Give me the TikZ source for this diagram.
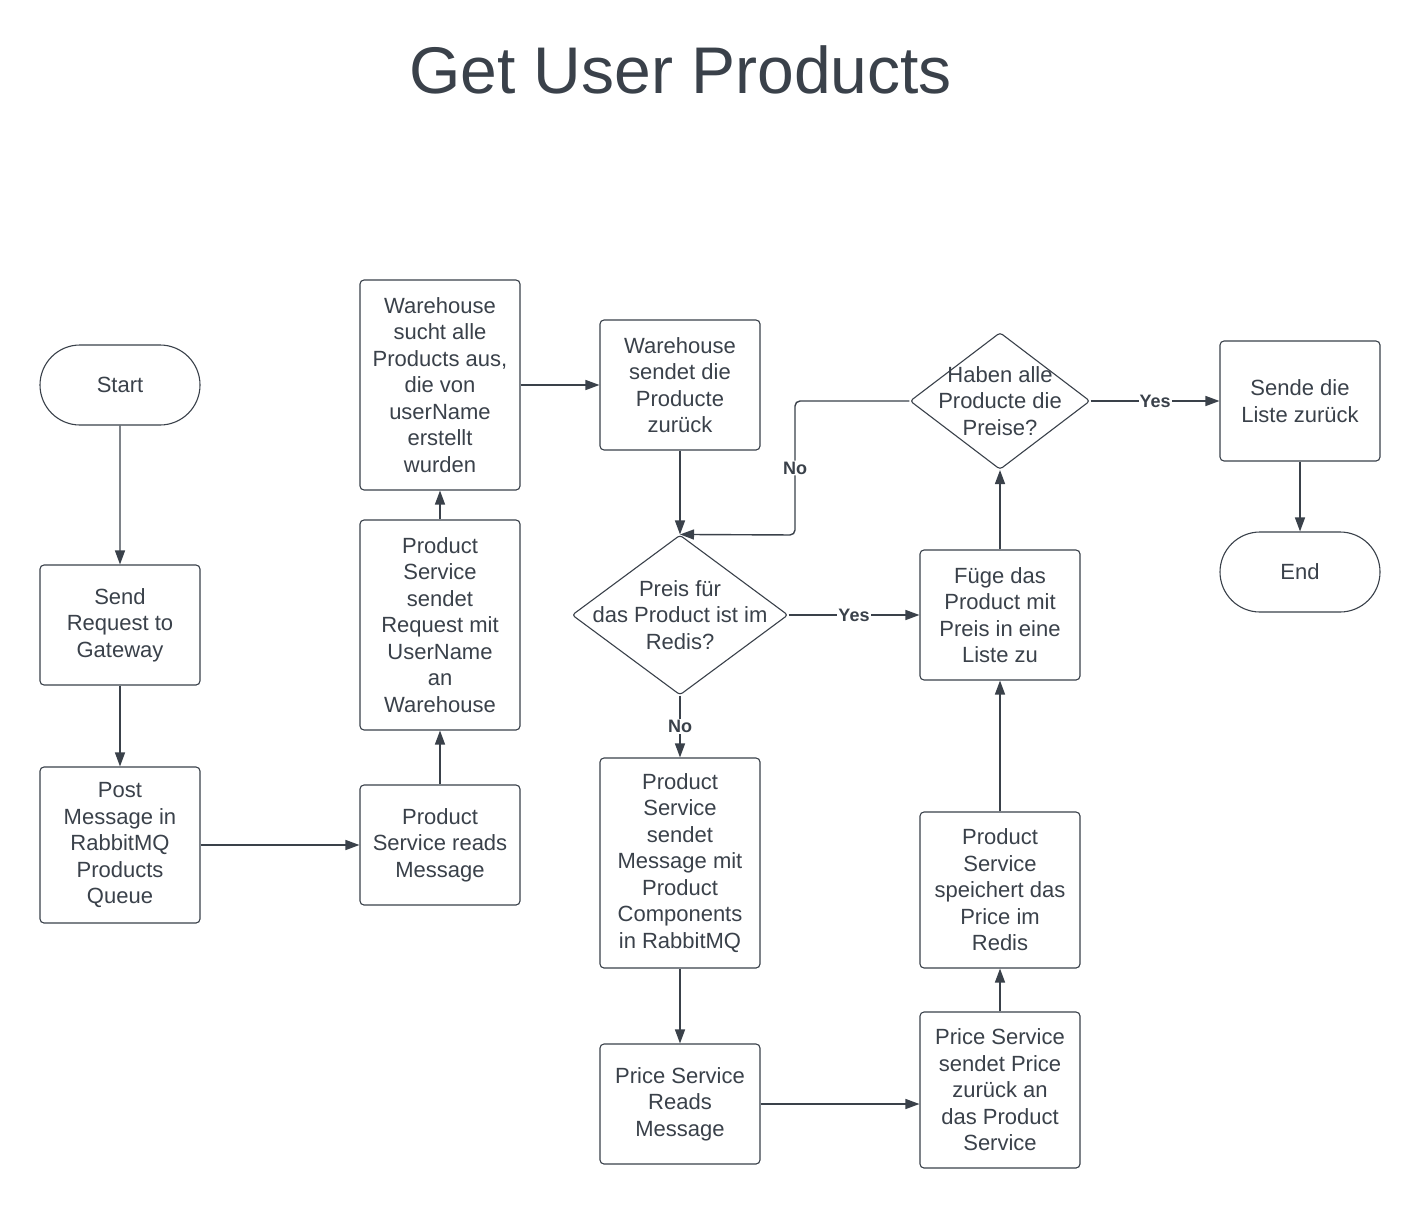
\documentclass[tikz,border=0pt]{standalone}
\usepackage{fontspec}
\setmainfont{Liberation Sans}
\usetikzlibrary{arrows.meta,shapes.geometric,shapes.misc}
\definecolor{ink}{HTML}{3A414A}
\begin{document}
\begin{tikzpicture}[x=1pt,y=-1pt,
  txt/.style={text=ink,align=center,font=\fontsize{22}{26.5}\selectfont},
  box/.style={txt,draw=ink,line width=1.1pt,rounded corners=4pt,minimum width=160pt,inner sep=0pt},
  term/.style={txt,draw=ink,line width=1.1pt,rounded rectangle,minimum width=160pt,minimum height=80pt,inner sep=0pt},
  dia/.style={draw=ink,line width=1.1pt,diamond,rounded corners=3pt,inner sep=0pt},
  arr/.style={draw=ink,line width=1.4pt,-{Triangle[length=14pt,width=10pt]}},
  lab/.style={text=ink,fill=white,inner sep=1pt,font=\bfseries\fontsize{18}{20}\selectfont}
]
\useasboundingbox[fill=white] (0,0) rectangle (1420,1209);

\node[text=ink,anchor=base,font=\fontsize{66}{70}\selectfont] (title) at (680.5,94) {Get User Products};

\node[term] (start) at (120,385) {Start};
\node[box,minimum height=120pt] (send) at (120,625) {Send\\Request to\\Gateway};
\node[box,minimum height=156pt] (post) at (120,845) {Post\\Message in\\RabbitMQ\\Products\\Queue};
\node[box,minimum height=120pt] (psr) at (440,845) {Product\\Service reads\\Message};
\node[box,minimum height=210pt] (psreq) at (440,625) {Product\\Service\\sendet\\Request mit\\UserName\\an\\Warehouse};
\node[box,minimum height=210pt] (whs) at (440,385) {Warehouse\\sucht alle\\Products aus,\\die von\\userName\\erstellt\\wurden};
\node[box,minimum height=130pt] (whz) at (680,385) {Warehouse\\sendet die\\Producte\\zurück};
\node[dia,minimum width=216pt,minimum height=160pt] (d1) at (680,615) {};
\node[txt] (d1t) at (d1.center) {Preis für\\das Product ist im\\Redis?};
\node[box,minimum height=210pt] (psm) at (680,863) {Product\\Service\\sendet\\Message mit\\Product\\Components\\in RabbitMQ};
\node[box,minimum height=120pt] (prr) at (680,1104) {Price Service\\Reads\\Message};
\node[box,minimum height=156pt] (pss) at (1000,1090) {Price Service\\sendet Price\\zurück an\\das Product\\Service};
\node[box,minimum height=156pt] (psp) at (1000,890) {Product\\Service\\speichert das\\Price im\\Redis};
\node[box,minimum height=130pt] (fuege) at (1000,615) {Füge das\\Product mit\\Preis in eine\\Liste zu};
\node[dia,minimum width=180pt,minimum height=137pt] (d2) at (1000,401) {};
\node[txt] (d2t) at (d2.center) {Haben alle\\Producte die\\Preise?};
\node[box,minimum height=120pt] (liste) at (1300,401) {Sende die\\Liste zurück};
\node[term] (endn) at (1300,572) {End};

\draw[arr] (start) -- (send);
\draw[arr] (send) -- (post);
\draw[arr] (post) -- (psr);
\draw[arr] (psr) -- (psreq);
\draw[arr] (psreq) -- (whs);
\draw[arr] (whs) -- (whz);
\draw[arr] (whz) -- (d1);
\draw[arr] (d1) -- node[lab] {Yes} (fuege);
\draw[arr] (d1) -- node[lab] {No} (psm);
\draw[arr] (psm) -- (prr);
\draw[arr] (prr.east) -- (prr.east -| pss.west);
\draw[arr] (pss) -- (psp);
\draw[arr] (psp) -- (fuege);
\draw[arr] (fuege) -- (d2);
\draw[arr] (d2) -- node[lab] {Yes} (liste);
\draw[arr] (liste) -- (endn);
\coordinate (nturn) at (795,535);
\draw[arr,rounded corners=5pt] (d2.west) -| node[lab,pos=0.75] {No} (nturn) -- (d1.north);
\end{tikzpicture}
\end{document}
